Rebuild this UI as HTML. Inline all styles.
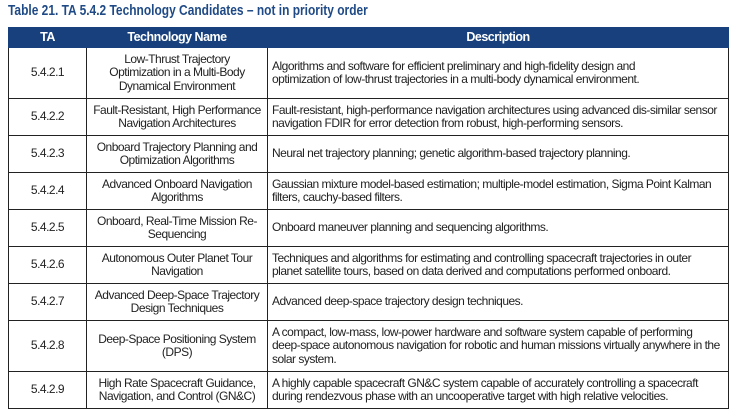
<!DOCTYPE html>
<html><head><meta charset="utf-8"><style>
body{margin:0;width:736px;height:419px;background:#fff;position:relative;overflow:hidden;font-family:"Liberation Sans",Arial,sans-serif}
.title{position:absolute;left:8px;top:3px;font-weight:bold;color:#1f4a86;font-size:14.5px;white-space:nowrap;transform:scaleX(0.825);transform-origin:left top}
table{position:absolute;left:8px;top:27px;width:720px;border-collapse:collapse;table-layout:fixed}
td,th{border:1px solid #222;font-size:12px;letter-spacing:-0.5px;line-height:13.4px;color:#222;padding:0 4px;vertical-align:middle;white-space:nowrap;overflow:hidden}
th{background:#17407c;color:#fff;font-weight:bold;font-size:12.5px;height:19px;border-color:#17407c}
td.c{text-align:center}
</style></head><body>
<div class="title">Table 21. TA 5.4.2 Technology Candidates – not in priority order</div>
<table>
<colgroup><col style="width:78px"><col style="width:181px"><col style="width:461px"></colgroup>
<tr><th>TA</th><th>Technology Name</th><th>Description</th></tr>
<tr style="height:51px"><td class="c">5.4.2.1</td><td class="c">Low-Thrust Trajectory<br>Optimization in a Multi-Body<br>Dynamical Environment</td><td>Algorithms and software for efficient preliminary and high-fidelity design and<br>optimization of low-thrust trajectories in a multi-body dynamical environment.</td></tr>
<tr style="height:37px"><td class="c">5.4.2.2</td><td class="c">Fault-Resistant, High Performance<br>Navigation Architectures</td><td>Fault-resistant, high-performance navigation architectures using advanced dis-similar sensor<br>navigation FDIR for error detection from robust, high-performing sensors.</td></tr>
<tr style="height:37px"><td class="c">5.4.2.3</td><td class="c">Onboard Trajectory Planning and<br>Optimization Algorithms</td><td>Neural net trajectory planning; genetic algorithm-based trajectory planning.</td></tr>
<tr style="height:37px"><td class="c">5.4.2.4</td><td class="c">Advanced Onboard Navigation<br>Algorithms</td><td>Gaussian mixture model-based estimation; multiple-model estimation, Sigma Point Kalman<br>filters, cauchy-based filters.</td></tr>
<tr style="height:37px"><td class="c">5.4.2.5</td><td class="c">Onboard, Real-Time Mission Re-<br>Sequencing</td><td>Onboard maneuver planning and sequencing algorithms.</td></tr>
<tr style="height:37px"><td class="c">5.4.2.6</td><td class="c">Autonomous Outer Planet Tour<br>Navigation</td><td>Techniques and algorithms for estimating and controlling spacecraft trajectories in outer<br>planet satellite tours, based on data derived and computations performed onboard.</td></tr>
<tr style="height:37px"><td class="c">5.4.2.7</td><td class="c">Advanced Deep-Space Trajectory<br>Design Techniques</td><td>Advanced deep-space trajectory design techniques.</td></tr>
<tr style="height:51px"><td class="c">5.4.2.8</td><td class="c">Deep-Space Positioning System<br>(DPS)</td><td>A compact, low-mass, low-power hardware and software system capable of performing<br>deep-space autonomous navigation for robotic and human missions virtually anywhere in the<br>solar system.</td></tr>
<tr style="height:37px"><td class="c">5.4.2.9</td><td class="c">High Rate Spacecraft Guidance,<br>Navigation, and Control (GN&amp;C)</td><td>A highly capable spacecraft GN&amp;C system capable of accurately controlling a spacecraft<br>during rendezvous phase with an uncooperative target with high relative velocities.</td></tr>
</table>
</body></html>
